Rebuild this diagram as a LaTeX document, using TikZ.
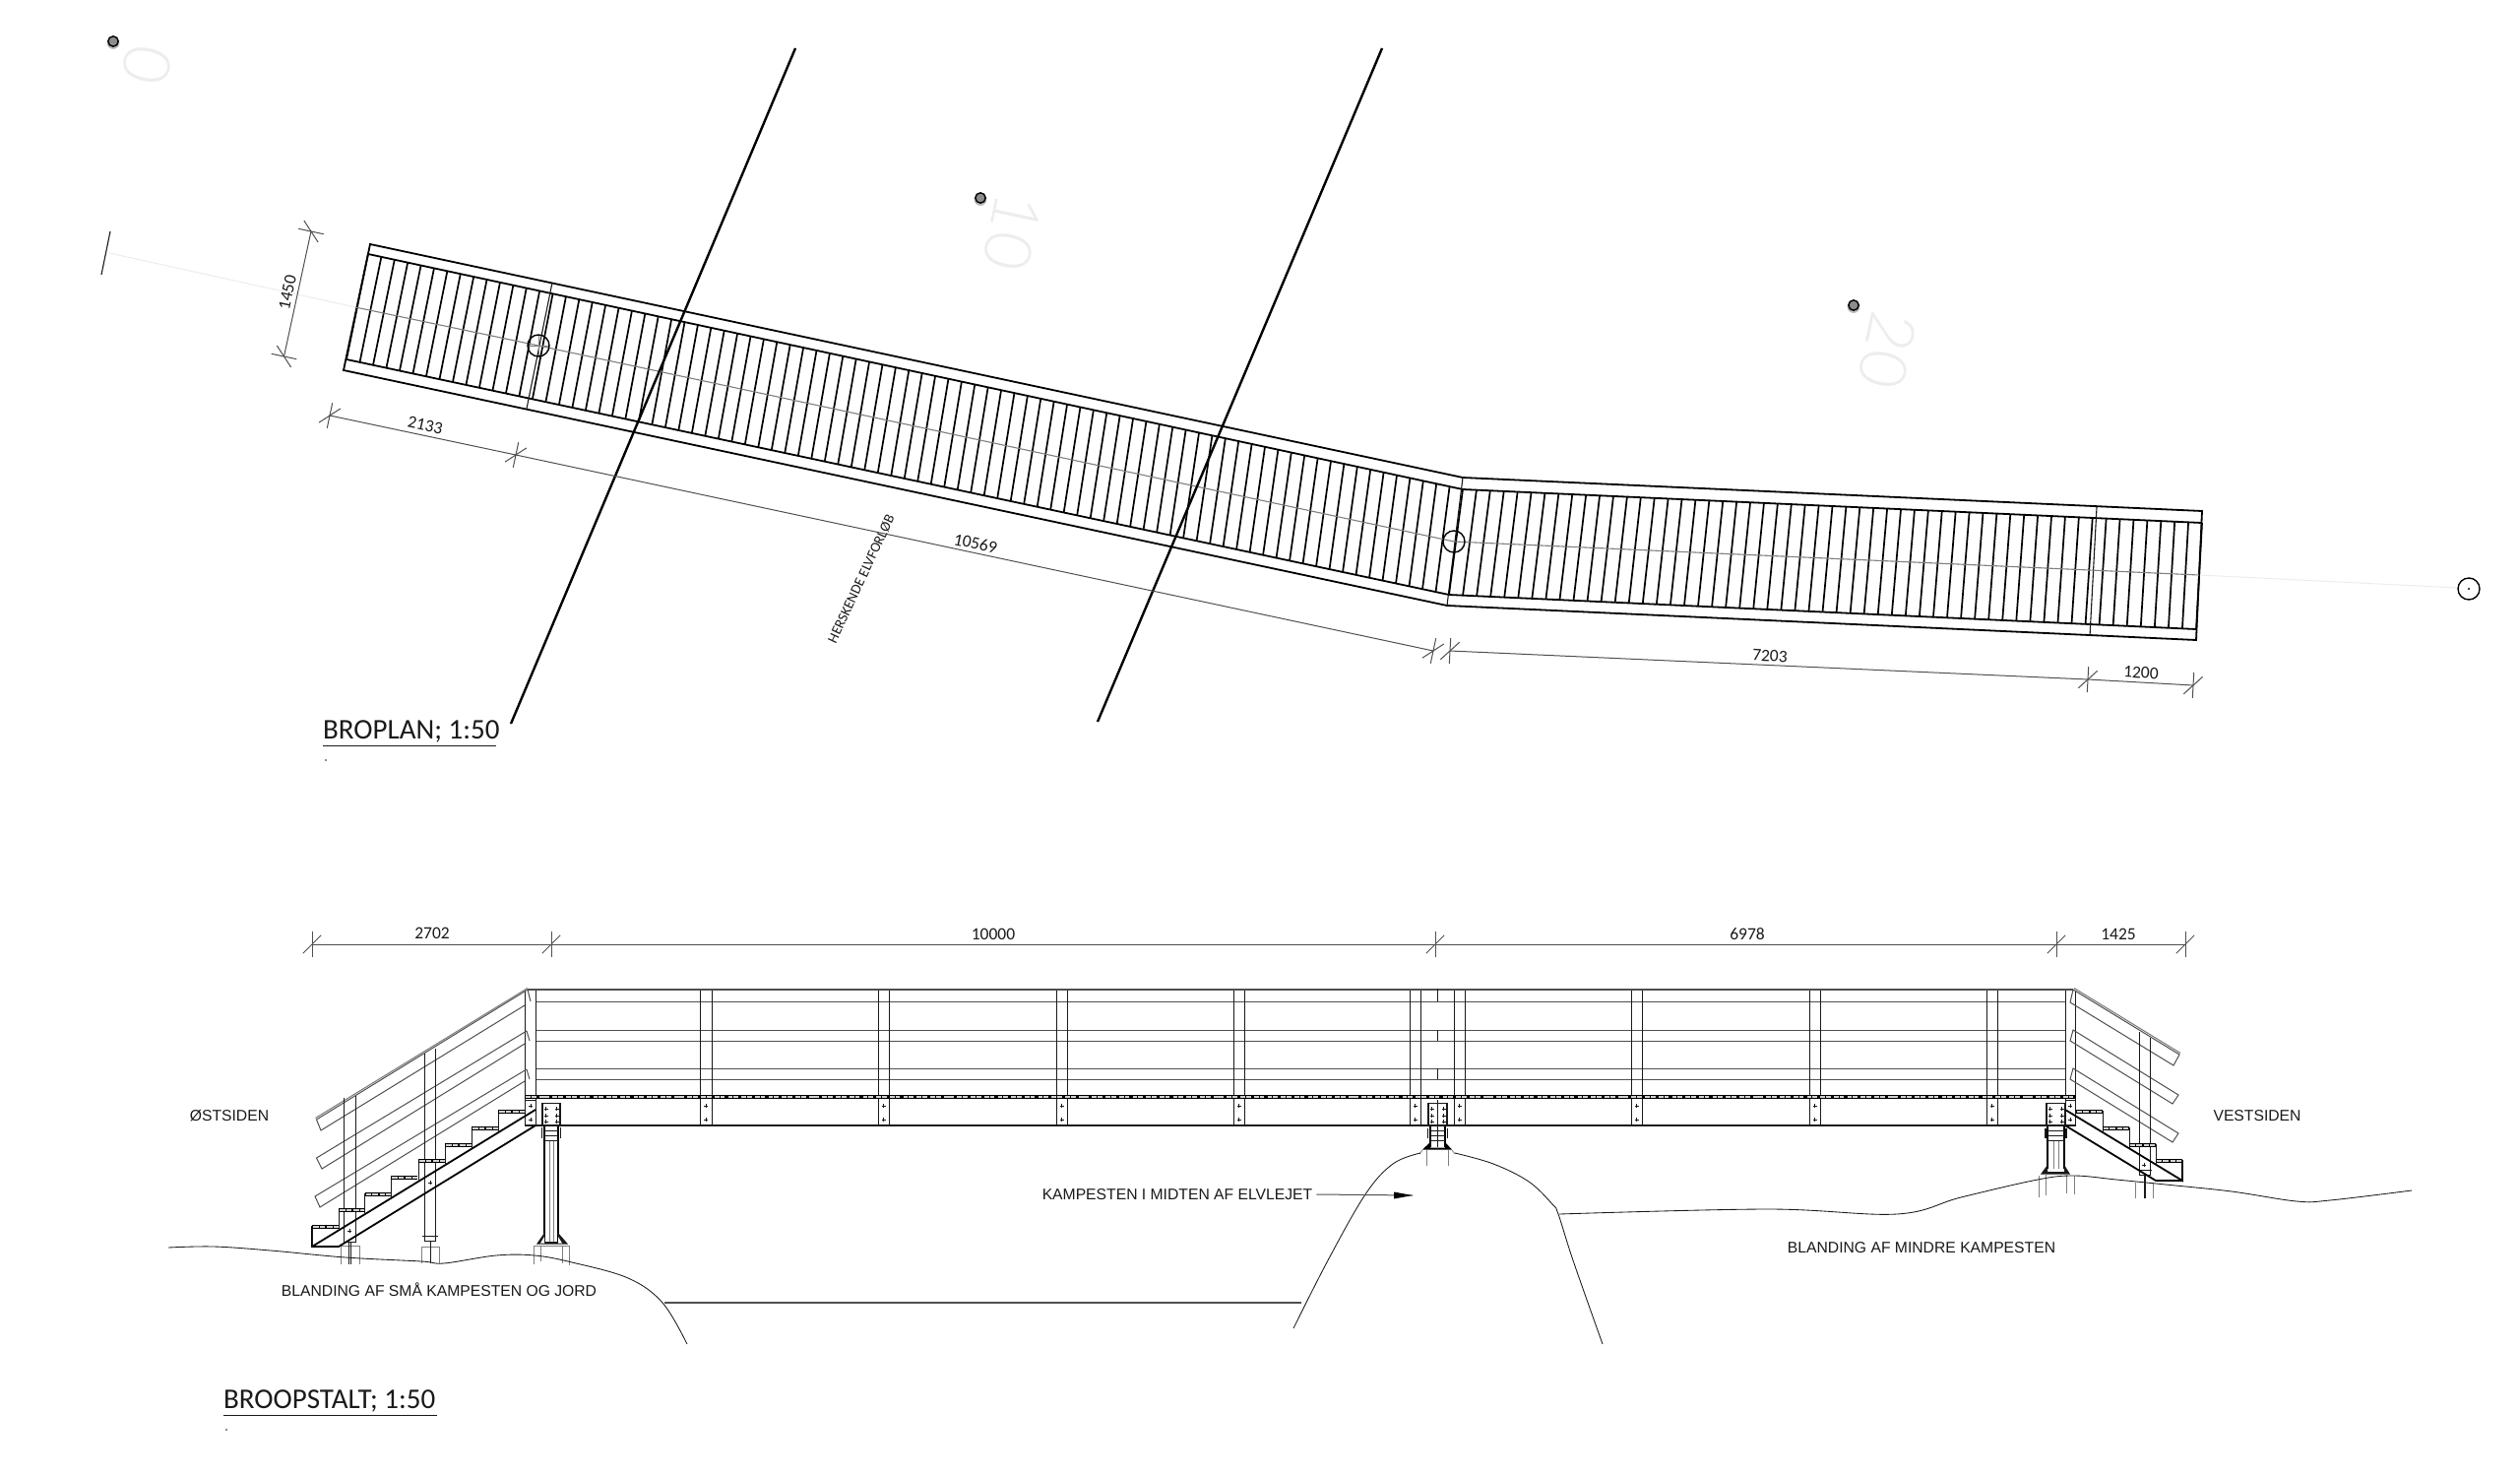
\documentclass[tikz,border=0pt]{standalone}
\usepackage{fontspec}
\setmainfont{Carlito}
\newfontfamily\arialfont{Liberation Sans}
\newfontfamily\thinfont{Lato Light}
\usetikzlibrary{calc}
\definecolor{inkk}{HTML}{1A1A1A}
\definecolor{midg}{HTML}{505050}
\definecolor{faintg}{HTML}{EDEDED}
\tikzset{
  edge/.style={draw=black,line width=1.8pt},
  slat/.style={draw=black,line width=1.7pt},
  thin line/.style={draw=inkk,line width=1.1pt},
  bigline/.style={draw=black,line width=2.4pt},
  dimln/.style={draw=midg,line width=1pt},
  dimlabel/.style={font=\fontsize{17.5}{18}\selectfont,text=inkk,inner sep=0pt},
  arlabel/.style={font=\arialfont\fontsize{15.7}{17}\selectfont,text=inkk,inner sep=0pt},
  titlelabel/.style={font=\fontsize{29}{30}\selectfont,text=inkk,inner sep=0pt,anchor=base west},
  ticklabel/.style={font=\thinfont\fontsize{66}{66}\selectfont,text=faintg,inner sep=0pt,rotate=-102},
  railln/.style={draw=midg,line width=1pt},
  postln/.style={draw=inkk,line width=.95pt},
  heavy/.style={draw=black,line width=1.8pt},
  ground/.style={draw=inkk,line width=.85pt},
  foot/.style={draw=gray,line width=.85pt},
  bandfill/.style={draw=black,line width=4.6pt},
  bandslot/.style={draw=white!82!black,line width=2pt,dash pattern=on 4.8pt off .9pt on 4.8pt off 3.2pt},
  stepslot/.style={draw=white!82!black,line width=2pt,dash pattern=on 5.6pt off 1pt on 5.6pt off 1.8pt},
}
\newcommand\dimtick[2]{%
  \draw[dimln] (#1) ++(#2+90:13) -- ++(#2-90:26);
  \draw[dimln] (#1) ++(#2-45:13) -- ++(#2+135:26);}
\newcommand\boltmark[2]{%
  \draw[draw=inkk,line width=.7pt] (#1-2,#2) -- (#1+2,#2) (#1,#2-2) -- (#1,#2+2);}
\newcommand\bracket[2]{%
  \draw[fill=white,draw=inkk,line width=1.3pt] (#1,1120.5) rectangle (#2,1143);
  \foreach \by in {1126,1133,1139}{\boltmark{#1+3.5}{\by}\boltmark{#2-3.5}{\by}}
}
\begin{document}
\begin{tikzpicture}[x=1pt,y=-1pt]
\useasboundingbox (0,0) rectangle (2560,1499);
\fill[white] (0,0) rectangle (2560,1499);

%%% ---- PLAN ----
\draw[draw=faintg,line width=1pt] (111,257) -- (361,312);
\draw[draw=faintg,line width=1pt] (2234,584) -- (2497,597);
\draw[draw=inkk,line width=1.1pt] (112,235) -- (103,279);
\node[ticklabel] (gridA) at (149,66) {0};
\node[ticklabel] (gridB) at (1028,236) {10};
\node[ticklabel] (gridC) at (1917,356) {20};
\foreach \px/\py in {115/42,996/201,1883/310}{
  \fill[gray!55] (\px,\py+1.5) circle (6.4);
  \draw[fill=black!45,draw=black,line width=1.4pt] (\px,\py) circle (5.2);
}
\coordinate (iTL) at (374,258);
\coordinate (iTK) at (1486,497);
\coordinate (iTR) at (2237,531);
\coordinate (iBL) at (352,365);
\coordinate (iBK) at (1472,604);
\coordinate (iBR) at (2231,639);
\draw[edge] (376,248) -- (1486,485) -- (2237,519) -- (2231,650) -- (1470,615) -- (349,376) -- cycle;
\draw[edge] (iTL) -- (iTK) -- (iTR);
\draw[edge] (iBL) -- (iBK) -- (iBR);
\draw[thin line] (1486,485) -- (1470,615);
\draw[thin line] (561,287) -- (535,415);
\draw[thin line] (2130,515) -- (2123,646);
\foreach \i in {0,...,83}{
  \pgfmathsetmacro\t{\i/83}
  \draw[slat] ($(iTL)!\t!(iTK)$) -- ($(iBL)!\t!(iBK)$);
}
\foreach \i in {1,...,54}{
  \pgfmathsetmacro\t{\i/54}
  \draw[slat] ($(iTK)!\t!(iTR)$) -- ($(iBK)!\t!(iBR)$);
}
\draw[draw=gray,line width=1.1pt] (361,312) -- (547,351) -- (1477,550) -- (2234,584);
\draw[draw=black,line width=1.4pt] (547,351) circle (11);
\draw[draw=gray,line width=.7pt] (537,351) -- (557,351) (547,341) -- (547,361);
\draw[draw=black,line width=1.4pt] (1477,550) circle (11);
\draw[draw=black,line width=1.4pt] (2508,598) circle (11);
\fill[black] (2508,598) circle (1.2);
\draw[bigline] (808,49) -- (519,735);
\draw[bigline] (1404,49) -- (1115,733);
\coordinate (dA) at (316,235);
\coordinate (dB) at (288.5,362);
\draw[dimln] (dA) -- (dB);
\dimtick{dA}{102}\dimtick{dB}{102}
\node[dimlabel,rotate=78] (lab1450) at (292,297) {1450};
\coordinate (dC) at (335,422);
\coordinate (dD) at (524,462);
\coordinate (dE) at (1456,661);
\coordinate (dF) at (1473,661);
\coordinate (dG) at (2121,690);
\coordinate (dH) at (2228,696);
\draw[dimln] (dC) -- (dD) -- (dE);
\draw[dimln] (dF) -- (dG) -- (dH);
\dimtick{dC}{12}\dimtick{dD}{12}\dimtick{dE}{12}
\dimtick{dF}{3}\dimtick{dG}{3}\dimtick{dH}{3}
\node[dimlabel,rotate=-12] (lab2133) at (432,432) {2133};
\node[dimlabel,rotate=-12] (lab10569) at (991,552) {10569};
\node[dimlabel,rotate=-3] (lab7203) at (1798,666) {7203};
\node[dimlabel,rotate=-3] (lab1200) at (2175,683) {1200};
\node[dimlabel,rotate=65,font=\fontsize{14.5}{15}\selectfont] (labElv) at (875,588) {HERSKENDE ELVFORLØB};
\node[titlelabel] (titlePlan) at (328,750) {BROPLAN; 1:50};
\draw[draw=inkk,line width=1pt] (328,757.5) -- (504,757.5);
\fill[inkk] (331,772) circle (.9);

%%% ---- ELEVATION ----
\coordinate (eA) at (317,959);
\coordinate (eB) at (560,959);
\coordinate (eC) at (1458,959);
\coordinate (eD) at (2089,959);
\coordinate (eE) at (2220,959);
\draw[dimln] (eA) -- (eB) -- (eC) -- (eD) -- (eE);
\foreach \c in {eA,eB,eC,eD,eE}{\dimtick{\c}{0}}
\node[dimlabel] (lab2702) at (439,948) {2702};
\node[dimlabel] (lab10000) at (1009,949) {10000};
\node[dimlabel] (lab6978) at (1775,949) {6978};
\node[dimlabel] (lab1425) at (2152,949) {1425};
\draw[draw=midg,line width=2pt] (536,1005) -- (2106,1005);
\foreach \yy in {1017,1046,1057,1085,1096}{\draw[railln] (544,\yy) -- (2098,\yy);}
\foreach \xx in {533,544,2098,2108}{\draw[postln] (\xx,1006) -- (\xx,1143);}
\foreach \xx in {711.5,892,1073,1253,1432,1477,1657,1838,2018}{
  \draw[postln] (\xx,1006) -- (\xx,1143);
  \draw[postln] (\xx+11.5,1006) -- (\xx+11.5,1143);
  \boltmark{\xx+5.7}{1123}\boltmark{\xx+5.7}{1137}
}
\draw[postln] (1460,1004) -- (1460,1017) (1460,1046) -- (1460,1057) (1460,1085) -- (1460,1096);
\draw[bandfill] (533,1114) -- (2109,1114);
\draw[bandslot] (534,1114) -- (2108,1114);
\draw[draw=inkk,line width=1.4pt] (533,1143) -- (2108,1143);
\draw[postln] (533,1117) rectangle (544,1143);
\draw[postln] (2098,1117) rectangle (2108,1143);
\boltmark{539}{1123}\boltmark{539}{1137}
\boltmark{2103}{1123}\boltmark{2103}{1137}
\bracket{551}{569}
\bracket{1451}{1470}
\bracket{2079}{2098}
\draw[postln] (1460.5,1117) -- (1460.5,1143);
% left column
\draw[heavy] (553,1144) -- (553,1262) (567,1144) -- (567,1262);
\draw[draw=gray,line width=.6pt] (558,1158) -- (558,1262) (562,1158) -- (562,1262);
\draw[postln] (553,1148) -- (567,1148) (553,1153) -- (567,1153) (553,1158) -- (567,1158);
\draw[draw=inkk,line width=1.3pt] (550.5,1145) -- (550.5,1156) (569.5,1145) -- (569.5,1156);
\fill[inkk] (545,1263.5) -- (553,1252) -- (553,1261) -- (567,1261) -- (567,1252) -- (577,1263.5) -- cycle;
\fill[white] (549,1262.5) -- (553,1256) -- (553,1262.5) -- cycle (571,1262.5) -- (567,1256) -- (567,1262.5) -- cycle;
\draw[foot] (542,1284) -- (542,1265) -- (578,1265) -- (578,1285);
\draw[foot] (549,1265) -- (549,1281) (571,1265) -- (571,1283);
% centre column
\draw[heavy] (1453,1144) -- (1453,1165) (1468,1144) -- (1468,1165);
\draw[postln] (1453,1148) -- (1468,1148) (1453,1153) -- (1468,1153) (1453,1158) -- (1468,1158) (1460.5,1143) -- (1460.5,1165);
\draw[draw=inkk,line width=1.1pt] (1450.5,1146) -- (1450.5,1156) (1470.5,1146) -- (1470.5,1156);
\fill[black] (1445,1167.5) -- (1453,1160) -- (1453,1165.5) -- (1468,1165.5) -- (1468,1160) -- (1475,1167.5) -- cycle;
\draw[foot] (1442,1172) -- (1445,1168) (1478,1172) -- (1475,1168);
\draw[foot] (1449,1168) -- (1449,1184) (1471,1168) -- (1471,1184);
% right column
\draw[heavy] (2080,1144) -- (2080,1187) (2097,1144) -- (2097,1187);
\draw[draw=gray,line width=.6pt] (2086,1158) -- (2086,1187) (2091,1158) -- (2091,1187);
\draw[postln] (2080,1148) -- (2097,1148) (2080,1153) -- (2097,1153) (2080,1158) -- (2097,1158);
\draw[draw=inkk,line width=1.1pt] (2078,1146) -- (2078,1156) (2099,1146) -- (2099,1156);
\fill[inkk] (2073,1192.5) -- (2080,1183) -- (2080,1190) -- (2097,1190) -- (2097,1183) -- (2103,1192.5) -- cycle;
\draw[foot] (2071,1194) -- (2071,1216) (2078,1192) -- (2078,1214) (2099,1192) -- (2099,1212) (2107,1194) -- (2107,1213);
% left stair: rails
\draw[railln] (536,1005) -- (321.5,1137) -- (326,1148) -- (533,1021);
\draw[draw=gray,line width=1.1pt] (536,1003.5) -- (320.5,1135.5);
\draw[railln] (536,1005) -- (539,1017);
\draw[railln] (535,1047) -- (321.5,1176) -- (327,1187) -- (533,1060);
\draw[railln] (535,1047) -- (538,1057);
\draw[railln] (535,1086) -- (320,1215) -- (325,1226) -- (533,1098);
\draw[railln] (535,1086) -- (538,1096);
% left stair: posts
\draw[postln] (349.5,1115) -- (349.5,1261) -- (361,1261) -- (361,1113);
\draw[postln] (431,1070) -- (431,1260) -- (442.5,1260) -- (442.5,1065);
\draw[postln] (429,1255) -- (445,1255);
\draw[foot] (346,1284) -- (346,1265) -- (365,1265) -- (365,1284);
\draw[draw=inkk,line width=1pt] (354,1262) -- (354,1284) (356.5,1262) -- (356.5,1284);
\draw[foot] (428,1283) -- (428,1266) -- (446,1266) -- (446,1283);
\draw[draw=inkk,line width=.9pt] (437,1261) -- (437,1283);
\boltmark{355}{1250}\boltmark{437}{1201}
% left stair: stringer
\draw[heavy] (317,1245) -- (317,1266) -- (344,1266) -- (544,1143);
\draw[heavy] (317,1266) -- (544,1127);
\foreach \sx/\sy in {317/1245,344/1228,370.5/1212,397/1195,425/1178,452/1162,479/1145,506/1128}{
  \pgfmathsetmacro\rb{1266-0.612*(\sx-317)}
  \draw[postln] (\sx,\sy) -- (\sx,\rb);
  \draw[draw=black,line width=4.4pt] (\sx,\sy+1) -- (\sx+27,\sy+1);
  \draw[stepslot] (\sx+1,\sy+1) -- (\sx+26.5,\sy+1);
}
% right stair: rails
\draw[railln] (2106,1005) -- (2214,1071) -- (2208,1082) -- (2103,1018) -- cycle;
\draw[draw=gray,line width=1.1pt] (2107,1003.5) -- (2215,1069.5);
\draw[railln] (2106,1046) -- (2213,1112) -- (2207,1121) -- (2103,1057) -- cycle;
\draw[railln] (2106,1085) -- (2213,1151) -- (2207,1160) -- (2103,1096) -- cycle;
\draw[postln] (2173,1048) -- (2173,1193) -- (2184,1193) -- (2184,1054);
\draw[postln] (2174,1188) -- (2186,1188);
\draw[foot] (2169,1201) -- (2169,1217) (2187,1201) -- (2187,1217);
\draw[draw=inkk,line width=.9pt] (2178,1194) -- (2178,1217) (2179.5,1194) -- (2179.5,1217);
\boltmark{2178}{1183}
\draw[heavy] (2098,1127) -- (2217,1199) -- (2217,1179);
\draw[heavy] (2098,1143) -- (2190,1199) -- (2217,1199);
\foreach \sx/\sy in {2109/1128,2136/1145,2163/1162,2190/1178}{
  \pgfmathsetmacro\rb{1127+0.605*(\sx+27-2098)}
  \draw[postln] (\sx+27,\sy) -- (\sx+27,\rb);
  \draw[draw=black,line width=4.4pt] (\sx,\sy+1) -- (\sx+27,\sy+1);
  \draw[stepslot] (\sx+.5,\sy+1) -- (\sx+26,\sy+1);
}
% terrain
\draw[ground] plot[smooth,tension=.6] coordinates {(171,1267) (217,1266) (275,1270) (351,1277) (428,1281) (451,1283) (504,1275) (543,1275) (581,1282) (638,1298) (673,1323) (698,1365)};
\draw[draw=midg,line width=1.1pt] (675,1323) -- (1322,1323);
\draw[ground] plot[smooth,tension=.6] coordinates {(1314,1349) (1349,1280) (1387,1213) (1415,1182) (1443,1171)};
\draw[ground] plot[smooth,tension=.6] coordinates {(1478,1171) (1517,1182) (1553,1200) (1577,1223) (1583,1233) (1598,1280) (1628,1365)};
\draw[ground] plot[smooth,tension=.6] coordinates {(1584,1233) (1796,1228) (1927,1233) (1992,1216) (2070,1198) (2107,1194) (2150,1198) (2200,1203) (2267,1210) (2333,1220) (2367,1219) (2450,1209)};
% labels
\node[arlabel] (labOst) at (233,1133) {ØSTSIDEN};
\node[arlabel] (labVest) at (2293,1133) {VESTSIDEN};
\node[arlabel] (labSmaa) at (446,1310) {BLANDING AF SMÅ KAMPESTEN OG JORD};
\node[arlabel] (labMindre) at (1952,1267) {BLANDING AF MINDRE KAMPESTEN};
\node[arlabel] (labKamp) at (1196,1213) {KAMPESTEN I MIDTEN AF ELVLEJET};
\coordinate (kampTip) at (1435,1214);
\draw[dimln] (labKamp.east) ++(4,0) -- (kampTip);
\fill[black] (kampTip) -- (1416,1210.5) -- (1416,1217.5) -- cycle;
\node[titlelabel] (titleElev) at (227,1430) {BROOPSTALT; 1:50};
\draw[draw=inkk,line width=1pt] (227,1437.5) -- (444,1437.5);
\fill[inkk] (230,1452) circle (.9);
\end{tikzpicture}
\end{document}
